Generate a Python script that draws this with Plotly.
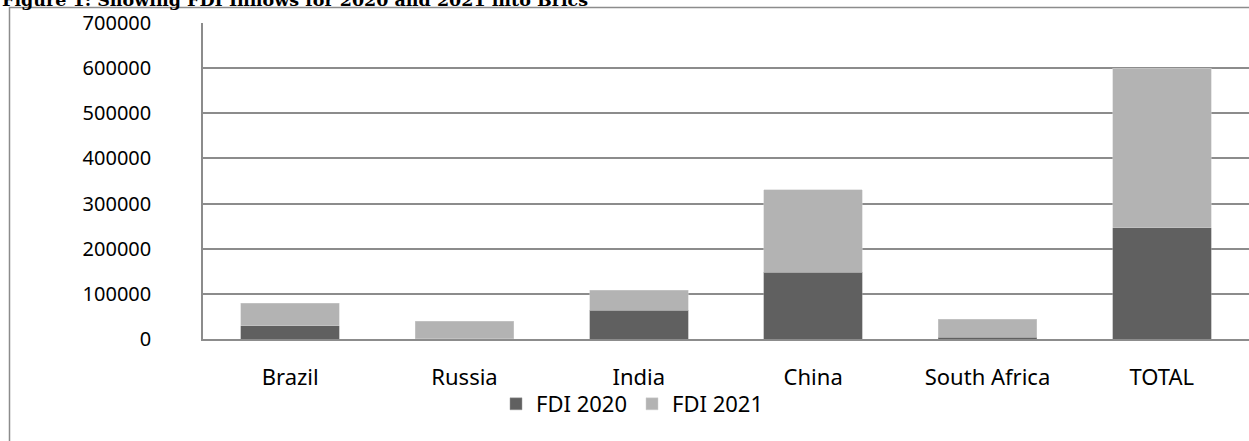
import plotly.graph_objects as go

categories = ["Brazil", "Russia", "India", "China", "South Africa", "TOTAL"]
fdi_2020 = [29400, 1000, 64100, 148200, 3500, 246200]
fdi_2021 = [49600, 38300, 43600, 182100, 40000, 353300]
y_ticks = [0, 100000, 200000, 300000, 400000, 500000, 600000, 700000]

W, H = 1249, 441
ML, MR, MT, MB = 203, 0, 23, 102
pw = W - ML - MR
ph = H - MT - MB

def px_x(p):
    return (p - ML) / pw

def px_y(p):
    return (H - MB - p) / ph

fig = go.Figure()
fig.add_trace(go.Bar(x=categories, y=fdi_2020, name="FDI 2020",
                     marker=dict(color="#606060", line=dict(color="#9a9a9a", width=0.5))))
fig.add_trace(go.Bar(x=categories, y=fdi_2021, name="FDI 2021",
                     marker=dict(color="#b3b3b3", line=dict(color="#d0d0d0", width=0.5))))

fig.update_layout(
    width=W, height=H,
    margin=dict(l=ML, r=MR, t=MT, b=MB, pad=0),
    barmode="stack",
    bargap=0.435,
    plot_bgcolor="white",
    paper_bgcolor="white",
    font=dict(family="Noto Sans", color="#000000"),
    showlegend=True,
    legend=dict(orientation="h", traceorder="normal", x=px_x(632), xanchor="center",
                y=px_y(404), yanchor="middle",
                font=dict(size=22, family="Noto Sans"), itemwidth=30, tracegroupgap=0,
                bgcolor="rgba(0,0,0,0)"),
    xaxis=dict(showgrid=False, showline=True, linecolor="#8c8c8c", linewidth=1.5,
               ticks="", tickfont=dict(size=22), ticklabelstandoff=18),
    yaxis=dict(range=[0, 700000], tickvals=y_ticks, ticktext=[str(v) for v in y_ticks],
               showgrid=True, gridcolor="#8c8c8c", gridwidth=1.5,
               showline=True, linecolor="#8c8c8c", linewidth=1.5,
               ticks="", tickfont=dict(size=20), ticklabelstandoff=46, zeroline=False),
    shapes=[dict(type="rect", xref="paper", yref="paper",
                 x0=px_x(9.5), y0=px_y(470), x1=px_x(1300), y1=px_y(7.5),
                 line=dict(color="#8c8c8c", width=1.5), fillcolor="rgba(0,0,0,0)", layer="below")],
    annotations=[dict(text="<b>Figure 1: Showing FDI Inflows for 2020 and 2021 into Brics</b>",
                      xref="paper", yref="paper", x=px_x(0), y=px_y(12),
                      xanchor="left", yanchor="bottom", showarrow=False,
                      font=dict(family="DejaVu Serif", size=17.5, color="#000000"))],
)

fig.write_html("out.html")
